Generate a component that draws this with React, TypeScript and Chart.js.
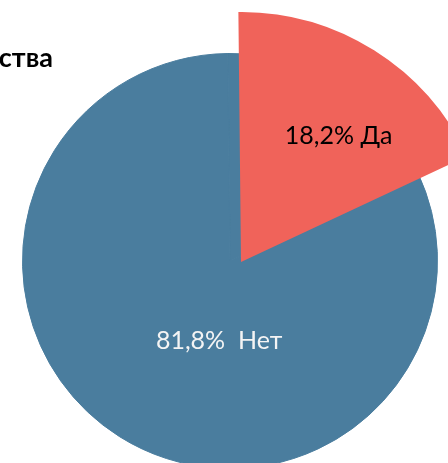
import React, { useEffect, useRef } from "react";
import { Chart, registerables } from "chart.js";

Chart.register(...registerables);

// ---- data ----
const categories = ["Да", "Нет"];
const values = [18.2, 81.8];
const labelSeparators = [" ", "  "];
const titleText = "ства";

// ---- styles ----
const BLUE = "#4A7D9E";
const RED = "#F0635A";
const LABEL_FONT = "25px Lato, 'Open Sans', sans-serif";

const sliceLabelPlugin = {
  id: "sliceLabels",
  afterDatasetsDraw(chart: any, _args: any, opts: any) {
    const meta = chart.getDatasetMeta(0);
    const ctx = chart.ctx;
    meta.data.forEach((arc: any, i: number) => {
      const cfg = opts.items ? opts.items[i] : null;
      if (!cfg) return;
      const { x, y, startAngle, endAngle, outerRadius } = arc.getProps(
        ["x", "y", "startAngle", "endAngle", "outerRadius"],
        true
      );
      const mid = (startAngle + endAngle) / 2 + (cfg.turn * Math.PI) / 180;
      const r = outerRadius * cfg.dist;
      const v = chart.data.datasets[0].data[i] as number;
      const text =
        v.toFixed(1).replace(".", ",") + "%" + labelSeparators[i] + chart.data.labels[i];
      ctx.save();
      ctx.font = opts.font;
      ctx.fillStyle = cfg.color;
      ctx.textAlign = "center";
      ctx.textBaseline = "alphabetic";
      ctx.fillText(text, x + Math.cos(mid) * r, y + Math.sin(mid) * r);
      ctx.restore();
    });
  },
};

function makeConfig(colors: string[], borders: string[], borderWidth: number, items: any[]) {
  return {
    type: "pie" as const,
    data: {
      labels: categories,
      datasets: [
        {
          data: values,
          backgroundColor: colors,
          borderColor: borders,
          borderWidth,
          hoverOffset: 0,
        },
      ],
    },
    options: {
      responsive: false,
      animation: false as const,
      rotation: -0.6,
      layout: { padding: 0 },
      events: [],
      plugins: {
        legend: { display: false },
        tooltip: { enabled: false },
        title: { display: false },
        sliceLabels: { font: LABEL_FONT, items },
      },
    },
    plugins: [sliceLabelPlugin],
  };
}

export default function App() {
  const baseRef = useRef<HTMLCanvasElement>(null);
  const topRef = useRef<HTMLCanvasElement>(null);

  useEffect(() => {
    const base = new Chart(
      baseRef.current as HTMLCanvasElement,
      makeConfig(
        [BLUE, BLUE],
        [BLUE, BLUE],
        1,
        [null, { dist: 0.4265, turn: -25.1, color: "#F4F4F4" }]
      ) as any
    );
    const top = new Chart(
      topRef.current as HTMLCanvasElement,
      makeConfig(
        [RED, "rgba(0,0,0,0)"],
        ["rgba(0,0,0,0)", "rgba(0,0,0,0)"],
        0,
        [{ dist: 0.612, turn: 7.5, color: "#000000" }, null]
      ) as any
    );
    return () => {
      base.destroy();
      top.destroy();
    };
  }, []);

  return (
    <div
      style={{
        position: "fixed",
        left: 0,
        top: 0,
        width: 448,
        height: 463,
        overflow: "hidden",
        background: "#ffffff",
      }}
    >
      <canvas
        ref={baseRef}
        width={416}
        height={416}
        style={{ position: "absolute", left: 22, top: 53, width: 416, height: 416 }}
      />
      <canvas
        ref={topRef}
        width={500}
        height={500}
        style={{ position: "absolute", left: -9, top: 12, width: 500, height: 500 }}
      />
      <div
        style={{
          position: "absolute",
          right: 395,
          top: 43,
          whiteSpace: "nowrap",
          font: "bold 27px Lato, 'Open Sans', sans-serif",
          lineHeight: "27px",
          color: "#000000",
        }}
      >
        {titleText}
      </div>
    </div>
  );
}
